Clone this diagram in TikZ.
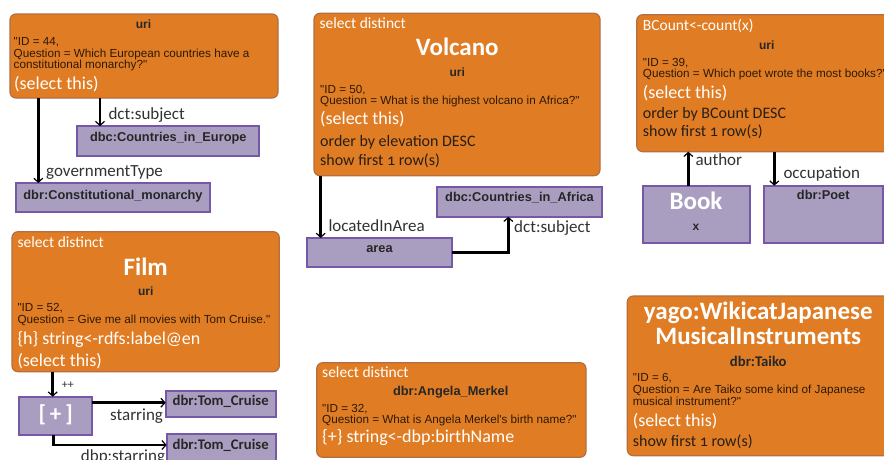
\documentclass[tikz,border=0pt]{standalone}
\usepackage{fontspec}
\setmainfont{Carlito}
\newfontfamily\arf{Liberation Sans}
\newfontfamily\calos{Carlito}[Numbers=OldStyle]
\usetikzlibrary{arrows.meta}
\definecolor{ofill}{RGB}{224,125,36}
\definecolor{oborder}{RGB}{180,110,65}
\definecolor{pfill}{RGB}{170,158,192}
\definecolor{pborder}{RGB}{118,88,168}
\definecolor{sdark}{RGB}{45,25,5}
\definecolor{ddark}{RGB}{40,30,20}
\definecolor{lgray}{RGB}{50,50,50}
\tikzset{
  obox/.style={draw=oborder, fill=ofill, line width=1.2pt, rounded corners=6pt, anchor=north west, inner sep=0pt, outer sep=0pt},
  pbox/.style={draw=pborder, fill=pfill, line width=1.8pt, anchor=north west, inner sep=0pt, outer sep=0pt},
  txt/.style={inner sep=0pt, anchor=base west},
  small/.style={txt, font=\arf\fontsize{11.7}{11.7}\selectfont, text=sdark},
  uri/.style={inner sep=0pt, anchor=base, font=\arf\bfseries\fontsize{12}{12}\selectfont, text=black!85},
  blab/.style={inner sep=0pt, anchor=base, font=\arf\bfseries\fontsize{12.8}{12.8}\selectfont, text=black!85},
  clab/.style={inner sep=0pt, anchor=base, font=\bfseries\fontsize{14.7}{14.7}\selectfont, text=black!85},
  wtitle/.style={inner sep=0pt, anchor=base, font=\bfseries\fontsize{25}{25}\selectfont, text=white},
  wtxt/.style={txt, font=\fontsize{18}{18}\selectfont, text=white},
  sd/.style={txt, font=\fontsize{15.5}{15.5}\selectfont, text=white},
  dtxt/.style={txt, font=\fontsize{16}{16}\selectfont, text=ddark},
  lbl/.style={txt, font=\fontsize{17}{17}\selectfont, text=lgray},
  arr/.style={line width=2.6pt, -{Straight Barb[length=4pt,width=9pt,line width=1.2pt]}}
}
\begin{document}
\begin{tikzpicture}[x=1pt,y=-1pt]
\clip (0,0) rectangle (884,459);
\fill[white] (0,0) rectangle (884,459);

% ---------- Panel 1
\node[obox, minimum width=268pt, minimum height=84pt] (p1) at (10,14) {};
\node[uri] (p1u) at (143.5,28.3) {uri};
\node[small] (p1i1) at (13.5,45.5) {"ID = 44,};
\node[small] (p1i2) at (13.5,57) {Question = Which European countries have a};
\node[small] (p1i3) at (13.5,68.5) {constitutional monarchy?"};
\node[wtxt] (p1s) at (14,89.3) {(select this)};
\node[pbox, minimum width=182pt, minimum height=29.5pt] (cie) at (77.3,126.2) {};
\node[blab] (ciet) at (168.3,141.3) {dbc:Countries\_in\_Europe};
\node[pbox, minimum width=194pt, minimum height=29pt] (cmon) at (16,183) {};
\node[blab] (cmont) at (113,199) {dbr:Constitutional\_monarchy};
\node[lbl] (l1) at (108.3,119) {dct:subject};
\node[lbl] (l2) at (46,176.7) {governmentType};
\coordinate (a1) at (38.3,0);
\coordinate (a2) at (100,0);
\draw[arr] (p1.south -| a1) -- (cmon.north -| a1);
\draw[arr] (p1.south -| a2) -- (cie.north -| a2);

% ---------- Panel 2
\node[obox, minimum width=286pt, minimum height=162.4pt] (p2) at (314,13.3) {};
\node[sd] (p2sd) at (319.3,28.3) {select distinct};
\node[wtitle] (p2t) at (457.3,55) {Volcano};
\node[uri] (p2u) at (457.3,76) {uri};
\node[small] (p2i1) at (320,93.3) {"ID = 50,};
\node[small] (p2i2) at (320,104.5) {Question = What is the highest volcano in Africa?"};
\node[wtxt] (p2s) at (320,124) {(select this)};
\node[dtxt] (p2o) at (320,146) {order by elevation DESC};
\node[dtxt] (p2f) at (320,165) {show first {\calos 1} row(s)};
\node[pbox, minimum width=145.6pt, minimum height=28.7pt] (area) at (306.7,238) {};
\node[blab] (areat) at (379.5,252) {area};
\node[pbox, minimum width=165.6pt, minimum height=29.4pt] (cia) at (436.7,187.3) {};
\node[blab] (ciat) at (519.5,201.3) {dbc:Countries\_in\_Africa};
\node[lbl] (l3) at (328.3,231.3) {locatedInArea};
\node[lbl] (l4) at (514,232.3) {dct:subject};
\coordinate (a3) at (320.7,0);
\coordinate (a4) at (508.3,0);
\draw[arr] (p2.south -| a3) -- (area.north -| a3);
\draw[arr] (area.east) -| (cia.south -| a4);

% ---------- Panel 3
\node[obox, minimum width=260pt, minimum height=137pt] (p3) at (636.7,14.7) {};
\node[sd] (p3c) at (642.7,30.7) {BCount<-count(x)};
\node[uri] (p3u) at (766.7,49.3) {uri};
\node[small] (p3i1) at (642.7,66.7) {"ID = 39,};
\node[small] (p3i2) at (642.7,77.5) {Question = Which poet wrote the most books?"};
\node[wtxt] (p3s) at (642.7,98.3) {(select this)};
\node[dtxt] (p3o) at (642.7,118.3) {order by BCount DESC};
\node[dtxt] (p3f) at (642.7,136.7) {show first {\calos 1} row(s)};
\node[pbox, minimum width=107.3pt, minimum height=57pt] (book) at (642.7,185.7) {};
\node[wtitle] (bookt) at (696,209.3) {Book};
\node[uri] (bookx) at (696,230) {x};
\node[pbox, minimum width=119pt, minimum height=57pt] (poet) at (764.3,185.7) {};
\node[blab] (poett) at (823.3,199.3) {dbr:Poet};
\node[lbl] (l5) at (695.3,165.7) {author};
\node[lbl] (l6) at (783.3,178.3) {occupation};
\coordinate (a5) at (688.3,0);
\coordinate (a6) at (774.3,0);
\draw[arr] (book.north -| a5) -- (p3.south -| a5);
\draw[arr] (p3.south -| a6) -- (poet.north -| a6);

% ---------- Panel 4
\node[obox, minimum width=267.3pt, minimum height=140pt] (p4) at (12,231.7) {};
\node[sd] (p4sd) at (17.3,247.7) {select distinct};
\node[wtitle] (p4t) at (145.7,275) {Film};
\node[uri] (p4u) at (145.7,295.7) {uri};
\node[small] (p4i1) at (17.3,311.7) {"ID = 52,};
\node[small] (p4i2) at (17.3,323.5) {Question = Give me all movies with Tom Cruise."};
\node[wtxt] (p4h) at (17.3,344) {\{h\} string<-rdfs:label@en};
\node[wtxt] (p4s) at (17.3,366.7) {(select this)};
\node[pbox, minimum width=72.4pt, minimum height=38.3pt] (plus) at (19.3,396.7) {};
\node[wtitle, font=\bfseries\fontsize{23}{23}\selectfont] (plust) at (55.7,421.7) {[\,+\,]};
\node[txt, font=\fontsize{12}{12}\selectfont, text=lgray] (l7) at (61.7,388.3) {++};
\node[pbox, minimum width=110.3pt, minimum height=26.6pt] (tc1) at (165.7,390.7) {};
\node[clab] (tc1t) at (220.7,405.7) {dbr:Tom\_Cruise};
\node[pbox, minimum width=109.3pt, minimum height=30pt] (tc2) at (166.7,434) {};
\node[clab] (tc2t) at (220.7,449) {dbr:Tom\_Cruise};
\node[lbl] (l8) at (110,420) {starring};
\node[lbl] (l9) at (80.7,461.5) {dbp:starring};
\coordinate (a7) at (52.7,0);
\coordinate (a8) at (0,402.7);
\coordinate (a9) at (53.3,0);
\coordinate (a10) at (0,445);
\draw[arr] (p4.south -| a7) -- (plus.north -| a7);
\draw[arr] (plus.east |- a8) -- (tc1.west |- a8);
\draw[arr] (plus.south -| a9) |- (tc2.west |- a10);

% ---------- Panel 5
\node[obox, minimum width=269.3pt, minimum height=94.6pt] (p5) at (316.7,362.7) {};
\node[sd] (p5sd) at (322,377.3) {select distinct};
\node[blab] (p5u) at (450.7,395.7) {dbr:Angela\_Merkel};
\node[small] (p5i1) at (322,412.2) {"ID = 32,};
\node[small] (p5i2) at (322,423.2) {Question = What is Angela Merkel's birth name?"};
\node[wtxt] (p5b) at (322,442.3) {\{+\} string<-dbp:birthName};

% ---------- Panel 6
\node[obox, minimum width=262pt, minimum height=159.7pt] (p6) at (627.3,296) {};
\node[wtitle] (p6t1) at (758.3,319.3) {yago:WikicatJapanese};
\node[wtitle] (p6t2) at (758.3,344.3) {MusicalInstruments};
\node[clab] (p6u) at (758.3,366) {dbr:Taiko};
\node[small] (p6i1) at (632.7,381.7) {"ID = 6,};
\node[small] (p6i2) at (632.7,393.3) {Question = Are Taiko some kind of Japanese};
\node[small] (p6i3) at (632.7,405) {musical instrument?"};
\node[wtxt] (p6s) at (632.7,426.7) {(select this)};
\node[dtxt] (p6f) at (632.7,446.7) {show first {\calos 1} row(s)};
\end{tikzpicture}
\end{document}
